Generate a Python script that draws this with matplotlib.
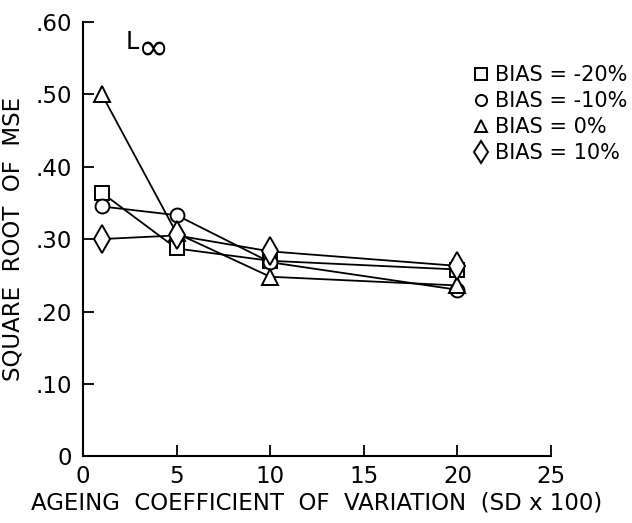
import matplotlib
matplotlib.use("AGG")
import matplotlib.pyplot as plt
from matplotlib.lines import Line2D

# values
cv = [1, 5, 10, 20]
bias_m20 = [0.364, 0.287, 0.270, 0.258]
bias_m10 = [0.345, 0.333, 0.268, 0.230]
bias_0 = [0.500, 0.308, 0.248, 0.236]
bias_10 = [0.300, 0.305, 0.283, 0.263]

series_labels = ["BIAS = -20%", "BIAS = -10%", "BIAS = 0%", "BIAS = 10%"]
series_markers = ["s", "o", "^", "d"]

xticks = [0, 5, 10, 15, 20, 25]
yticks = [0, 0.1, 0.2, 0.3, 0.4, 0.5, 0.6]
ytick_labels = ["0", ".10", ".20", ".30", ".40", ".50", ".60"]

plt.rcParams["font.family"] = "DejaVu Sans"

fig = plt.figure(figsize=(6.32, 5.23), dpi=100)
ax = fig.add_axes([0.1313, 0.1272, 0.7405, 0.8314])

allSeries = [bias_m20, bias_m10, bias_0, bias_10]
msizes = [10, 10, 11, 14]
for vals, mk, ms in zip(allSeries, series_markers, msizes):
	ax.plot(cv, vals, color="black", linewidth=1.3, marker=mk, markersize=ms,
		markerfacecolor="white", markeredgecolor="black", markeredgewidth=1.4,
		clip_on=False, zorder=3)

ax.set_xlim(0, 25)
ax.set_ylim(0, 0.6)
ax.set_xticks(xticks)
ax.set_xticklabels([str(v) for v in xticks])
ax.set_yticks(yticks)
ax.set_yticklabels(ytick_labels)
ax.tick_params(direction="in", length=8, width=1.3, labelsize=16.5, pad=6)
ax.tick_params(axis="y", pad=8)

for side in ["top", "right"]:
	ax.spines[side].set_visible(False)
for side in ["left", "bottom"]:
	ax.spines[side].set_linewidth(1.5)

ax.set_xlabel("AGEING  COEFFICIENT  OF  VARIATION  (SD x 100)", fontsize=16.5, labelpad=3)
ax.set_ylabel("SQUARE  ROOT  OF  MSE", fontsize=16.5, labelpad=8)

# L-infinity panel tag
ax.text(2.3, 0.572, "L", fontsize=17, ha="left", va="center")
ax.text(2.95, 0.561, "\u221e", fontsize=27, ha="left", va="center")

handles = [Line2D([], [], linestyle="none", marker=mk, markersize=ms * 0.8,
		markerfacecolor="white", markeredgecolor="black", markeredgewidth=1.4)
	for mk, ms in zip(series_markers, msizes)]
fig.legend(handles, series_labels, loc="upper left", bbox_to_anchor=(0.735, 0.895),
	frameon=False, fontsize=15, handlelength=0.6, handletextpad=0.35,
	labelspacing=0.28, borderpad=0)

plt.savefig("out.png", dpi=100)
